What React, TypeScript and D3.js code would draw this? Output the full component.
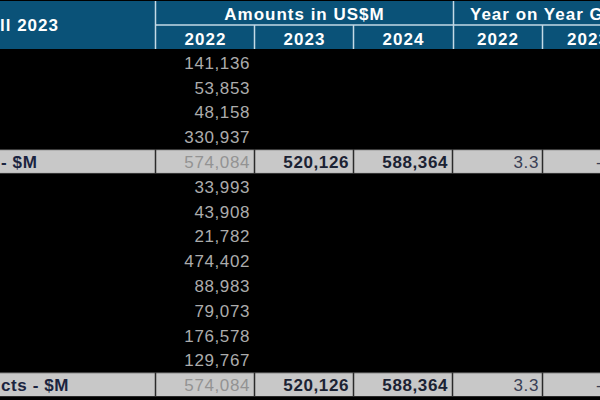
import React, { useEffect, useRef } from "react";
import * as d3 from "d3";

// header texts
const headerLabel = "ll 2023";
const groupAmounts = "Amounts in US$M";
const groupYoy = "Year on Year Growth";
const subColumns = ["2022", "2023", "2024", "2022", "2023"];

// first block (2022 amounts)
const blockA = [141136, 53853, 48158, 330937];
// second block (2022 amounts)
const blockB = [33993, 43908, 21782, 474402, 88983, 79073, 176578, 129767];

// total rows
const totalLabels = ["- $M", "cts - $M"];
const totalAmounts = [574084, 520126, 588364];
const totalYoy = ["3.3", "-"];

const W = 600;
const H = 400;
const colEdges = [0, 156, 255, 354, 453, 543, 633];
const headerBottom = 49;
const tableBottom = 397;

const fmt = d3.format(",");
const font = "Arial, 'Liberation Sans', sans-serif";

export default function App() {
  const ref = useRef<SVGSVGElement | null>(null);

  useEffect(() => {
    const svg = d3.select(ref.current);
    svg.selectAll("*").remove();

    // rows: block A, total, block B, total
    const rows: { kind: string; value?: number; t?: number }[] = [];
    blockA.forEach((v) => rows.push({ kind: "data", value: v }));
    rows.push({ kind: "total", t: 0 });
    blockB.forEach((v) => rows.push({ kind: "data", value: v }));
    rows.push({ kind: "total", t: 1 });

    const y = d3
      .scaleBand<number>()
      .domain(d3.range(rows.length))
      .range([headerBottom + 1, tableBottom])
      .paddingInner(0);

    const colLeft = (i: number) => colEdges[i];
    const colRight = (i: number) => colEdges[i + 1];

    // background
    svg.append("rect").attr("width", W).attr("height", H).attr("fill", "#000");

    // header
    svg
      .append("rect")
      .attr("x", 0)
      .attr("y", 1)
      .attr("width", W)
      .attr("height", headerBottom - 1)
      .attr("fill", "#0a5278");

    const lineColor = "#c4dae6";
    const hdr = svg.append("g").attr("stroke", lineColor).attr("stroke-width", 1.5);
    hdr.append("line").attr("x1", 155.5).attr("x2", 155.5).attr("y1", 1).attr("y2", headerBottom);
    hdr.append("line").attr("x1", 453.5).attr("x2", 453.5).attr("y1", 1).attr("y2", headerBottom);
    hdr.append("line").attr("x1", 156).attr("x2", W).attr("y1", 25).attr("y2", 25);
    [2, 3, 5].forEach((i) => {
      hdr
        .append("line")
        .attr("x1", colLeft(i) - 0.5)
        .attr("x2", colLeft(i) - 0.5)
        .attr("y1", 25)
        .attr("y2", headerBottom);
    });

    const headText = svg
      .append("g")
      .attr("fill", "#fff")
      .attr("font-family", font)
      .attr("font-weight", "bold")
      .attr("font-size", 17)
      .attr("letter-spacing", 1);

    headText.append("text").attr("x", 0).attr("y", 31).text(headerLabel);
    headText
      .append("text")
      .attr("x", (colLeft(1) + colRight(3)) / 2)
      .attr("y", 20)
      .attr("text-anchor", "middle")
      .text(groupAmounts);
    headText.append("text").attr("x", 470).attr("y", 20).text(groupYoy);
    subColumns.forEach((c, i) => {
      headText
        .append("text")
        .attr("x", (colLeft(i + 1) + colRight(i + 1)) / 2)
        .attr("y", 45)
        .attr("text-anchor", "middle")
        .text(c);
    });

    // body rows
    const body = svg.append("g").attr("font-family", font).attr("font-size", 17);

    rows.forEach((r, i) => {
      const top = y(i)!;
      const h = y.bandwidth();
      const base = top + h / 2 + 6.5;

      if (r.kind === "data") {
        body
          .append("text")
          .attr("x", colRight(1) - 5)
          .attr("y", base)
          .attr("text-anchor", "end")
          .attr("fill", "#acacac")
          .attr("letter-spacing", 0.6)
          .text(fmt(r.value!));
        return;
      }

      const g = body.append("g");
      g.append("rect")
        .attr("x", 0)
        .attr("y", top)
        .attr("width", W)
        .attr("height", h)
        .attr("fill", "#c8c8c8");
      g.append("line")
        .attr("x1", 0)
        .attr("x2", W)
        .attr("y1", top + 0.5)
        .attr("y2", top + 0.5)
        .attr("stroke", "#2a2a2a");
      g.append("line")
        .attr("x1", 0)
        .attr("x2", W)
        .attr("y1", top + h - 0.5)
        .attr("y2", top + h - 0.5)
        .attr("stroke", "#2a2a2a");
      colEdges.slice(1, 6).forEach((x) => {
        g.append("line")
          .attr("x1", x - 0.5)
          .attr("x2", x - 0.5)
          .attr("y1", top)
          .attr("y2", top + h)
          .attr("stroke", "#2a2a2a")
          .attr("stroke-width", 1.5);
      });

      g.append("text")
        .attr("x", 1)
        .attr("y", base)
        .attr("fill", "#1b2440")
        .attr("font-weight", "bold")
        .attr("letter-spacing", 0.6)
        .text(totalLabels[r.t!]);

      totalAmounts.forEach((v, j) => {
        g.append("text")
          .attr("x", colRight(j + 1) - 5)
          .attr("y", base)
          .attr("text-anchor", "end")
          .attr("fill", j === 0 ? "#939393" : "#1b2233")
          .attr("font-weight", j === 0 ? "normal" : "bold")
          .attr("letter-spacing", 0.6)
          .text(fmt(v));
      });

      g.append("text")
        .attr("x", colRight(4) - 4)
        .attr("y", base)
        .attr("text-anchor", "end")
        .attr("fill", "#3a3f55")
        .attr("letter-spacing", 0.6)
        .text(totalYoy[0]);
      g.append("text")
        .attr("x", 596)
        .attr("y", base)
        .attr("fill", "#3a3f55")
        .text(totalYoy[1]);
    });
  }, []);

  return (
    <svg
      ref={ref}
      width={W}
      height={H}
      style={{ position: "absolute", left: 0, top: 0, display: "block" }}
    />
  );
}
